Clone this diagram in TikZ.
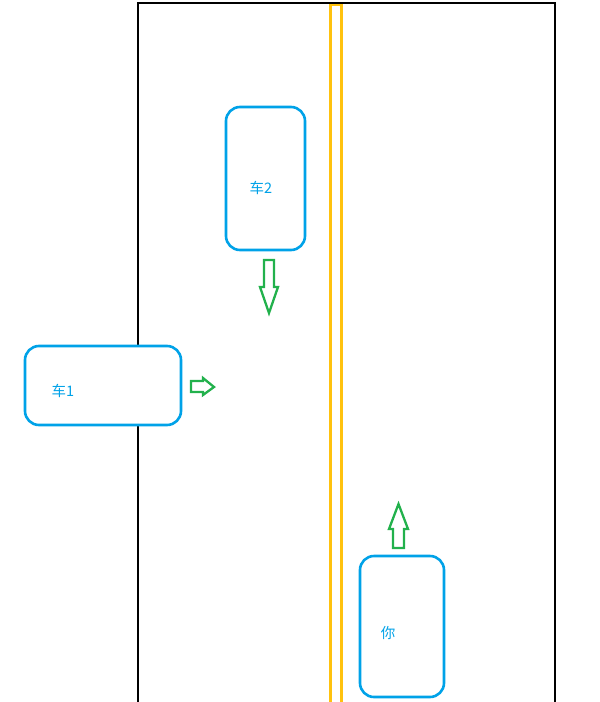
\documentclass[tikz,border=0pt]{standalone}
\usepackage{fontspec}
\newfontfamily\cjk{Noto Sans CJK SC}
\usepackage{tikz}
\usetikzlibrary{positioning}

\definecolor{carblue}{HTML}{00A2E8}
\definecolor{arrowgreen}{HTML}{22B14C}
\definecolor{laneyellow}{HTML}{FFC20E}

\begin{document}
\begin{tikzpicture}[x=1pt, y=-1pt]
\tikzset{
  road/.style={draw=black, line width=2.4pt},
  lane/.style={draw=laneyellow, line width=2.2pt},
  car/.style={draw=carblue, fill=white, line width=2.6pt, rounded corners=14pt},
  carlabel/.style={text=carblue, font=\cjk\fontsize{14.5}{16}\selectfont, inner sep=0pt},
  flow/.style={draw=arrowgreen, line width=2.3pt, line join=miter},
}
\useasboundingbox (0,0) rectangle (600,702);

% Road
\draw[road] (138,704) -- (138,3) -- (555,3) -- (555,704);
\draw[lane] (330.5,704) -- (330.5,5) -- (341.5,5) -- (341.5,704);

% Cars
\draw[car] (226,107) rectangle (305,250);
\node (car2) [carlabel] at (261,188) {车2};
\draw[car] (25,346) rectangle (181,425);
\node (car1) [carlabel] at (63,391) {车1};
\draw[car] (360,556) rectangle (444,697);
\node (you) [carlabel] at (388,633) {你};

% Arrows
\draw[flow] (264,260) -- (274,260) -- (274,287) -- (278,287) -- (269,313) -- (260,287) -- (264,287) -- cycle;
\draw[flow] (191,381) -- (203,381) -- (203,378) -- (214,387) -- (203,395) -- (203,392) -- (191,392) -- cycle;
\draw[flow] (393,548) -- (404,548) -- (404,529) -- (408,529) -- (398.5,504) -- (389,529) -- (393,529) -- cycle;

\end{tikzpicture}
\end{document}
